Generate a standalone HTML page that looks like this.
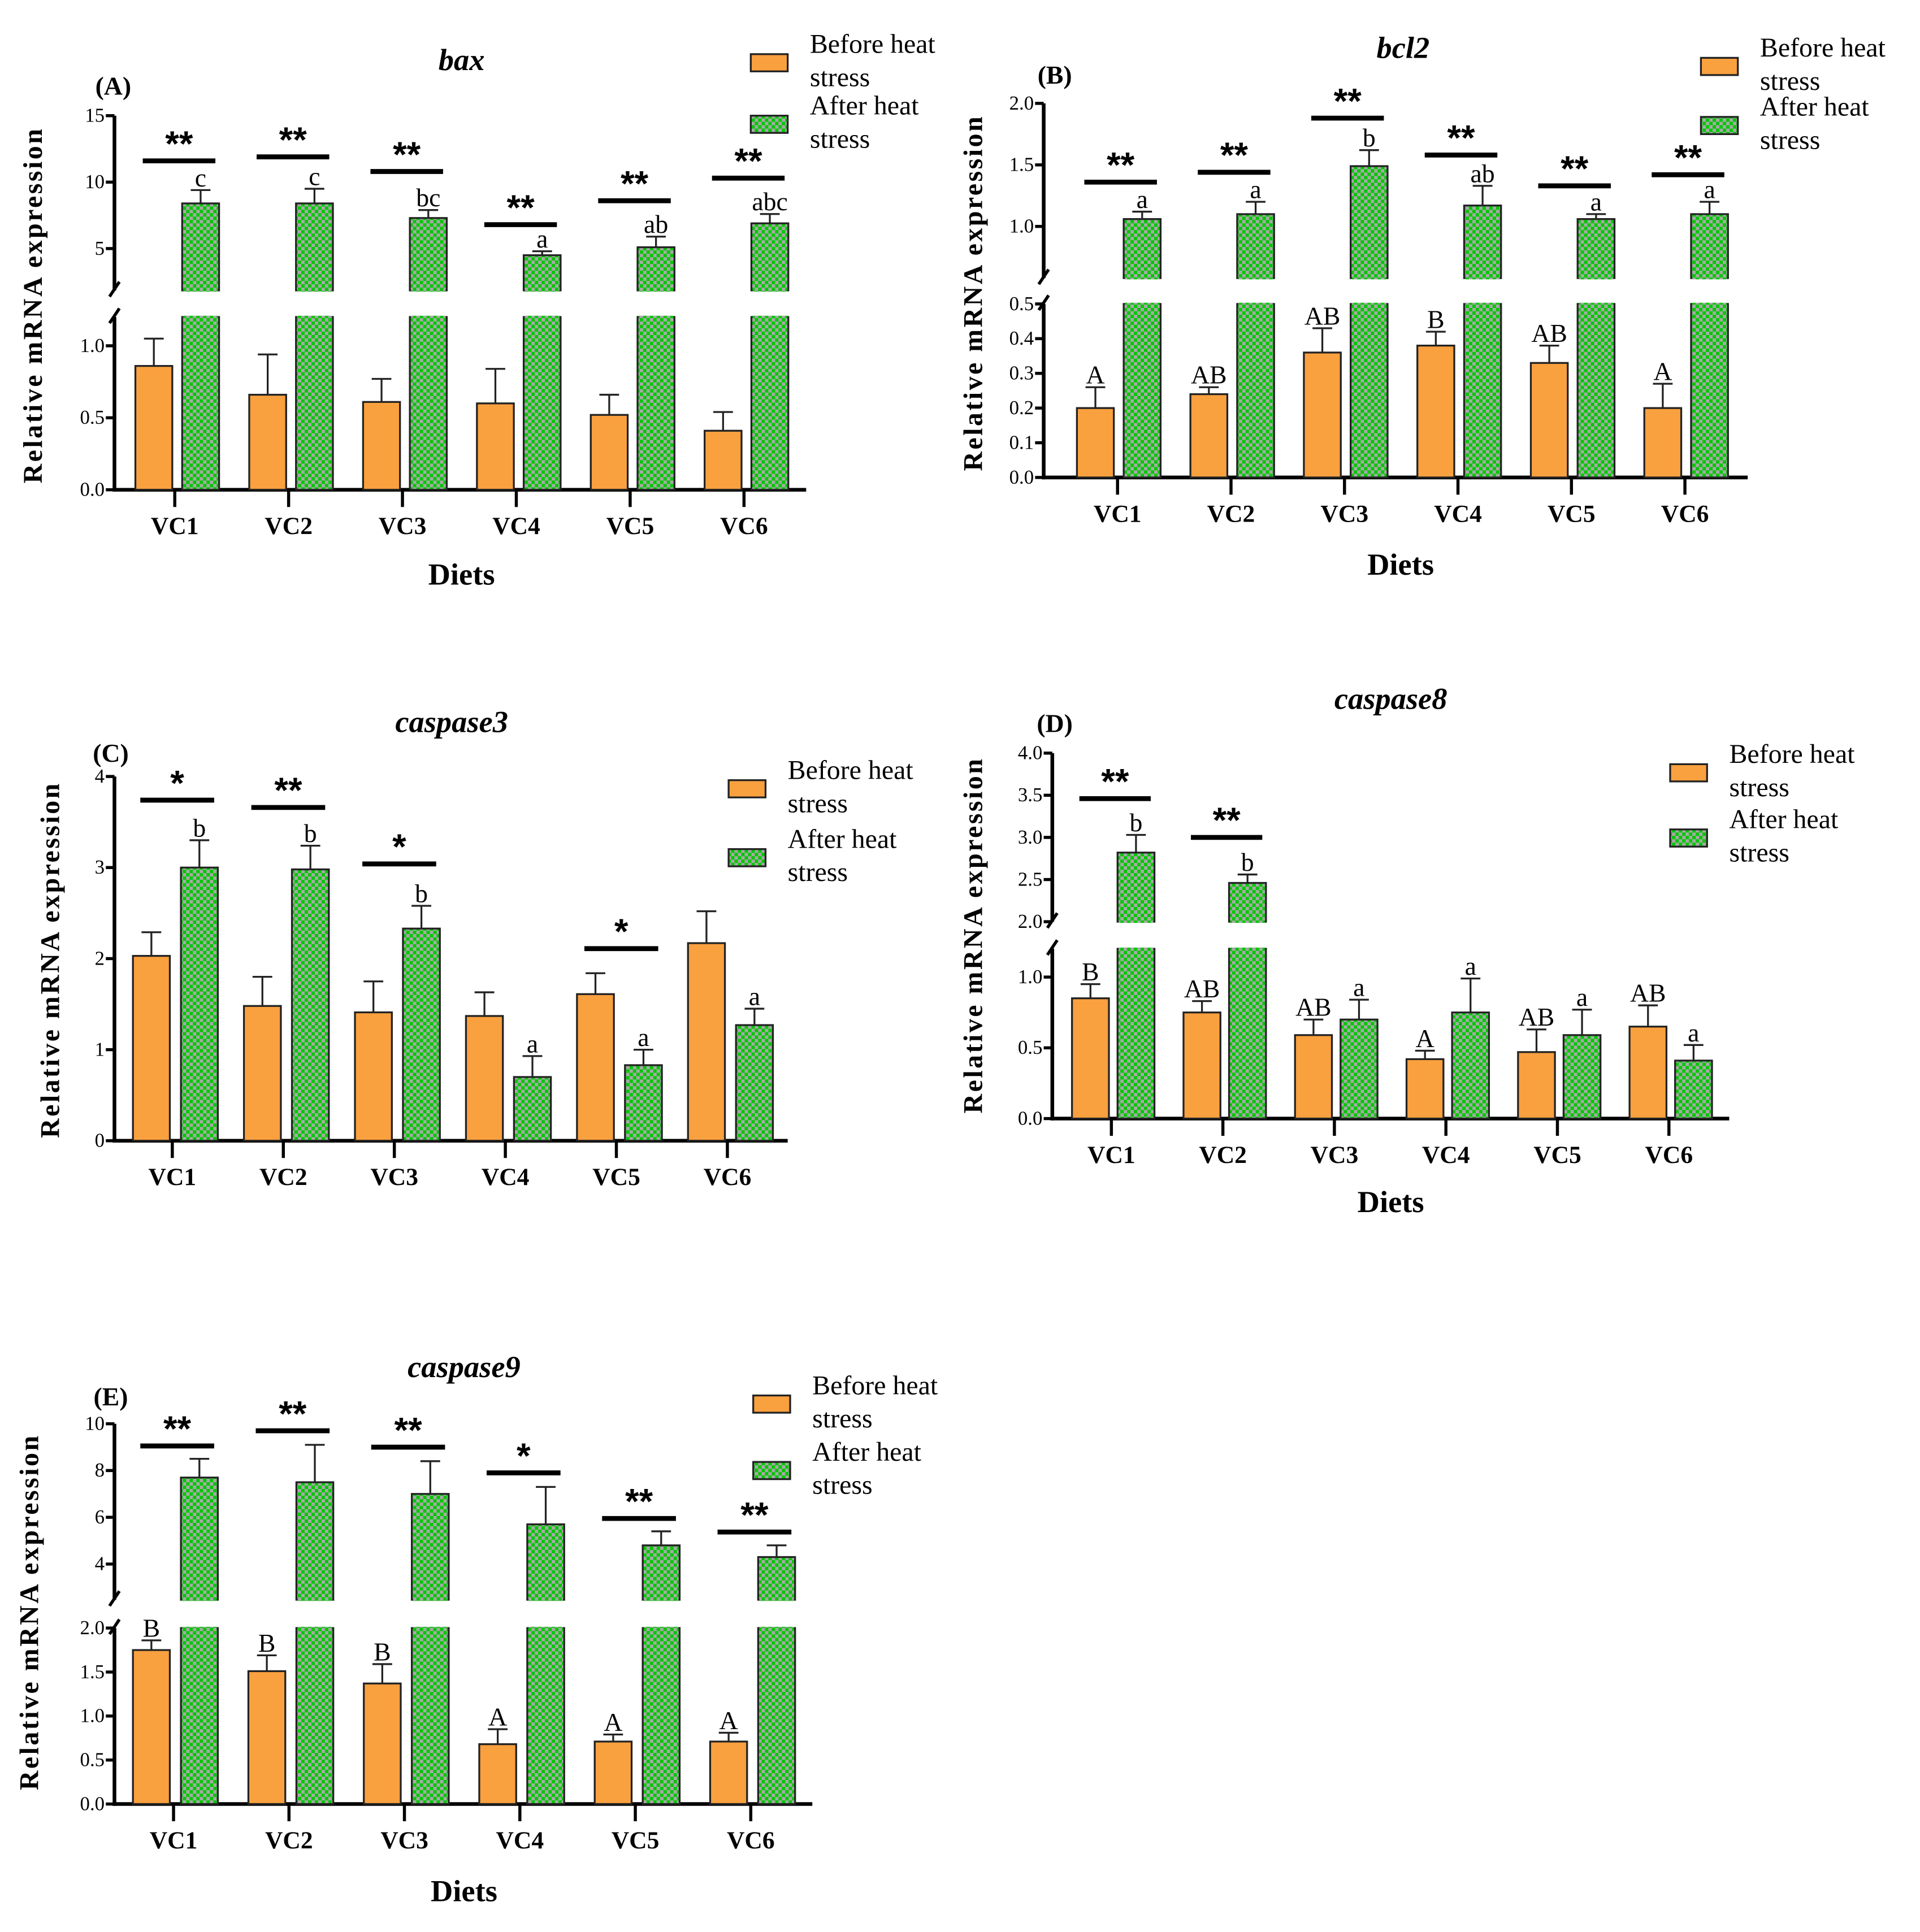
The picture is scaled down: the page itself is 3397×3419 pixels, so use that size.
<!DOCTYPE html>
<html><head><meta charset="utf-8">
<style>
html,body{margin:0;padding:0;background:#fff;}
svg{display:block;font-family:"Liberation Serif",serif;}
</style></head>
<body>
<svg id="fig" width="3397" height="3419" viewBox="0 0 1560 1570" preserveAspectRatio="none" xmlns="http://www.w3.org/2000/svg">
<defs>
<pattern id="chk" patternUnits="userSpaceOnUse" width="5.5" height="5.5">
<rect width="5.5" height="5.5" fill="#00c800"/>
<rect width="2.75" height="2.75" fill="#a8a8a8"/>
<rect x="2.75" y="2.75" width="2.75" height="2.75" fill="#a8a8a8"/>
</pattern>
</defs>
</svg>
<script>
// ---------- data ----------
const categories = ["VC1","VC2","VC3","VC4","VC5","VC6"];
// Panel A: bax
const baxBefore = [0.86,0.66,0.61,0.60,0.52,0.41];
const baxBeforeErr = [1.05,0.94,0.77,0.84,0.66,0.54];
const baxAfter = [8.4,8.4,7.3,4.5,5.1,6.9];
const baxAfterErr = [9.4,9.5,7.9,4.8,5.9,7.6];
const baxAfterLetters = ["c","c","bc","a","ab","abc"];
const baxBeforeLetters = ["","","","","",""];
const baxSig = [11.6,11.9,10.8,6.8,8.6,10.3];
const baxStars = ["**","**","**","**","**","**"];
// Panel B: bcl2
const bcl2Before = [0.20,0.24,0.36,0.38,0.33,0.20];
const bcl2BeforeErr = [0.26,0.26,0.43,0.42,0.38,0.27];
const bcl2BeforeLetters = ["A","AB","AB","B","AB","A"];
const bcl2After = [1.06,1.10,1.49,1.17,1.06,1.10];
const bcl2AfterErr = [1.12,1.20,1.62,1.33,1.10,1.20];
const bcl2AfterLetters = ["a","a","b","ab","a","a"];
const bcl2Sig = [1.36,1.44,1.88,1.58,1.33,1.42];
const bcl2Stars = ["**","**","**","**","**","**"];
// Panel C: caspase3
const c3Before = [2.03,1.48,1.41,1.37,1.61,2.17];
const c3BeforeErr = [2.29,1.80,1.75,1.63,1.84,2.52];
const c3BeforeLetters = ["","","","","",""];
const c3After = [3.0,2.98,2.33,0.70,0.83,1.27];
const c3AfterErr = [3.3,3.24,2.58,0.93,1.00,1.45];
const c3AfterLetters = ["b","b","b","a","a","a"];
const c3Sig = [3.74,3.66,3.04,null,2.11,null];
const c3Stars = ["*","**","*","","*",""];
// Panel D: caspase8
const c8Before = [0.85,0.75,0.59,0.42,0.47,0.65];
const c8BeforeErr = [0.95,0.83,0.70,0.48,0.63,0.80];
const c8BeforeLetters = ["B","AB","AB","A","AB","AB"];
const c8After = [2.82,2.46,0.70,0.75,0.59,0.41];
const c8AfterErr = [3.03,2.56,0.84,0.99,0.77,0.52];
const c8AfterLetters = ["b","b","a","a","a","a"];
const c8Sig = [3.46,3.0,null,null,null,null];
const c8Stars = ["**","**","","","",""];
// Panel E: caspase9
const c9Before = [1.75,1.51,1.37,0.68,0.71,0.71];
const c9BeforeErr = [1.86,1.69,1.59,0.85,0.79,0.81];
const c9BeforeLetters = ["B","B","B","A","A","A"];
const c9After = [7.7,7.5,7.0,5.7,4.8,4.3];
const c9AfterErr = [8.5,9.1,8.4,7.3,5.4,4.8];
const c9AfterLetters = ["","","","","",""];
const c9Sig = [9.05,9.7,9.0,7.9,5.95,5.37];
const c9Stars = ["**","**","**","*","**","**"];
// tick labels
const baxLowTicks = [0,0.5,1.0], baxUpTicks = [5,10,15];
const bcl2LowTicks = [0,0.1,0.2,0.3,0.4,0.5], bcl2UpTicks = [1.0,1.5,2.0];
const c3Ticks = [0,1,2,3,4];
const c8LowTicks = [0,0.5,1.0], c8UpTicks = [2.0,2.5,3.0,3.5,4.0];
const c9LowTicks = [0,0.5,1.0,1.5,2.0], c9UpTicks = [4,6,8,10];

// ---------- drawing ----------
const svg = document.getElementById('fig');
const NS = 'http://www.w3.org/2000/svg';
function mk(tag, attrs, parent, text){
  const e = document.createElementNS(NS, tag);
  for (const k in attrs) e.setAttribute(k, attrs[k]);
  if (text !== undefined) e.textContent = text;
  (parent||svg).appendChild(e);
  return e;
}

function panel(cfg){
  const g = mk('g', {});
  
  
  const L = cfg.low, U = cfg.up;
  function yLow(v){ return L.y0 - (v - L.v0) * (L.y0 - L.y1) / (L.v1 - L.v0); }
  function yUp(v){ return U.y0 - (v - U.v0) * (U.y0 - U.y1) / (U.v1 - U.v0); }
  function Y(v){ return (U && v > L.top) ? yUp(v) : yLow(v); }
  function X(i){ return cfg.x0 + i * cfg.dx; }
  const bw = 30;
  const ax = mk('g', {}, g);
  
  
  const lowTopY = U ? yLow(L.top) : yLow(L.ticks[L.ticks.length-1]);
  mk('line', {x1:cfg.ax, y1:cfg.base+1.5, x2:cfg.ax, y2:lowTopY, stroke:'#000','stroke-width':3}, ax);
  if (U){
    const upTopY = yUp(U.ticks[U.ticks.length-1]);
    mk('line', {x1:cfg.ax, y1:U.bottomY, x2:cfg.ax, y2:upTopY, stroke:'#000','stroke-width':3}, ax);
    mk('line', {x1:cfg.ax-4, y1:U.bottomY+5, x2:cfg.ax+4, y2:U.bottomY-7, stroke:'#000','stroke-width':2.5}, ax);
    mk('line', {x1:cfg.ax-4, y1:lowTopY+5, x2:cfg.ax+4, y2:lowTopY-7, stroke:'#000','stroke-width':2.5}, ax);
    U.ticks.forEach(t=>{
      const y = yUp(t);
      mk('line',{x1:cfg.ax-7,y1:y,x2:cfg.ax,y2:y,stroke:'#000','stroke-width':2.5},ax);
      const tl = mk('text',{x:cfg.ax-8,y:y+5,'text-anchor':'end','font-size':16},ax, U.fmt(t));
      
      
    });
  }
  L.ticks.forEach(t=>{
    const y = yLow(t);
    mk('line',{x1:cfg.ax-7,y1:y,x2:cfg.ax,y2:y,stroke:'#000','stroke-width':2.5},ax);
    const tl = mk('text',{x:cfg.ax-8,y:y+5,'text-anchor':'end','font-size':16},ax, L.fmt(t));
    
    
  });
  const xa = mk('line',{x1:cfg.ax-1.5,y1:cfg.base,x2:cfg.xend,y2:cfg.base,stroke:'#000','stroke-width':3}, g);
  
  
  categories.forEach((c,i)=>{
    const cx = X(i);
    mk('line',{x1:cx,y1:cfg.base,x2:cx,y2:cfg.base+14,stroke:'#000','stroke-width':2.5},g);
    const xl = mk('text',{x:cx,y:cfg.base+36,'text-anchor':'middle','font-size':20,'font-weight':'bold'},g,c);
    
    
    const bx = cx + cfg.ob - bw/2;
    const bv = cfg.before[i];
    const by = Y(bv);
    const ob = mk('rect',{x:bx,y:by,width:bw,height:cfg.base-by,fill:'#f9a03f',stroke:'#222','stroke-width':1.5},g);
    
    
    const be = Y(cfg.beforeErr[i]);
    mk('line',{x1:bx+bw/2,y1:by,x2:bx+bw/2,y2:be,stroke:'#222','stroke-width':1.5},g);
    mk('line',{x1:bx+bw/2-8,y1:be,x2:bx+bw/2+8,y2:be,stroke:'#222','stroke-width':1.5},g);
    if (cfg.beforeLetters[i]) mk('text',{x:bx+bw/2,y:be-3,'text-anchor':'middle','font-size':21},g,cfg.beforeLetters[i]);
    const gx = cx + cfg.gb - bw/2;
    const av = cfg.after[i];
    const ay = Y(av);
    if (U && av > L.top){
      const r1 = mk('rect',{x:gx,y:lowTopY,width:bw,height:cfg.base-lowTopY,fill:'url(#chk)',stroke:'#222','stroke-width':1.5},g);
      
      
      const r2 = mk('rect',{x:gx,y:ay,width:bw,height:U.bottomY-ay,fill:'url(#chk)',stroke:'#222','stroke-width':1.5},g);
      
      
      mk('line',{x1:gx+1,y1:lowTopY,x2:gx+bw-1,y2:lowTopY,stroke:'url(#chk)','stroke-width':2},g);
      mk('line',{x1:gx+1,y1:U.bottomY,x2:gx+bw-1,y2:U.bottomY,stroke:'url(#chk)','stroke-width':2},g);
    } else {
      const r = mk('rect',{x:gx,y:ay,width:bw,height:cfg.base-ay,fill:'url(#chk)',stroke:'#222','stroke-width':1.5},g);
      
      
    }
    const ae = Y(cfg.afterErr[i]);
    mk('line',{x1:gx+bw/2,y1:ay,x2:gx+bw/2,y2:ae,stroke:'#222','stroke-width':1.5},g);
    mk('line',{x1:gx+bw/2-8,y1:ae,x2:gx+bw/2+8,y2:ae,stroke:'#222','stroke-width':1.5},g);
    if (cfg.afterLetters[i]) mk('text',{x:gx+bw/2,y:ae-3,'text-anchor':'middle','font-size':21},g,cfg.afterLetters[i]);
    if (cfg.sig[i] !== null){
      const sy = Y(cfg.sig[i]);
      const sl = mk('line',{x1:bx+6,y1:sy,x2:gx+bw-3,y2:sy,stroke:'#000','stroke-width':4},g);
      
      
      mk('text',{x:(bx+6+gx+bw-3)/2,y:sy-4,'text-anchor':'middle','font-size':29,'font-weight':'bold','font-family':'Liberation Sans, sans-serif'},g,cfg.stars[i]);
    }
  });
  const t = mk('text',{x:cfg.title[0],y:cfg.title[1],'text-anchor':'middle','font-size':25,'font-weight':'bold','font-style':'italic'},g,cfg.titleText);
  
  
  const pl = mk('text',{x:cfg.plabel[0],y:cfg.plabel[1],'text-anchor':'middle','font-size':21,'font-weight':'bold'},g,'(' + cfg.id.toUpperCase() + ')');
  
  
  const yl = mk('text',{x:0,y:0,'text-anchor':'middle','font-size':22,'font-weight':'bold','letter-spacing':1.6,'transform':'translate(' + (cfg.ylab[0]+8) + ',' + cfg.ylab[1] + ') rotate(-90)'},g,'Relative mRNA expression');
  
  
  if (cfg.diets){
    const d = mk('text',{x:cfg.diets[0],y:cfg.diets[1]+8,'text-anchor':'middle','font-size':25,'font-weight':'bold'},g,'Diets');
    
    
  }
  const lg = mk('g',{},g);
  
  
  const [lx, ly1, ly2, tx] = cfg.legend;
  const e1 = mk('g',{},lg);
  
  
  mk('rect',{x:lx,y:ly1,width:30,height:14,fill:'#f9a03f',stroke:'#222','stroke-width':1.5},e1);
  mk('text',{x:tx,y:ly1-1,'font-size':22},e1,'Before heat');
  mk('text',{x:tx,y:ly1+26,'font-size':22},e1,'stress');
  const e2 = mk('g',{},lg);
  
  
  mk('rect',{x:lx,y:ly2,width:30,height:14,fill:'url(#chk)',stroke:'#222','stroke-width':1.5},e2);
  mk('text',{x:tx,y:ly2-1,'font-size':22},e2,'After heat');
  mk('text',{x:tx,y:ly2+26,'font-size':22},e2,'stress');
}
const f1 = v => v.toFixed(1), f0 = v => String(v);

panel({id:'a', titleText:'bax', title:[375,57], plabel:[92,77], ylab:[26,248], diets:[375,467],
  ax:93, base:398, xend:655, x0:142, dx:92.5, ob:-17, gb:21,
  low:{v0:0,y0:398,v1:1,y1:281,top:1.2,ticks:baxLowTicks,fmt:f1},
  up:{v0:5,y0:202,v1:15,y1:94,bottomY:236,ticks:baxUpTicks,fmt:f0},
  before:baxBefore, beforeErr:baxBeforeErr, beforeLetters:baxBeforeLetters,
  after:baxAfter, afterErr:baxAfterErr, afterLetters:baxAfterLetters, sig:baxSig, stars:baxStars,
  legend:[610,44,94,658]});
panel({id:'b', titleText:'bcl2', title:[1140,47], plabel:[857,68], ylab:[790,238], diets:[1138,459],
  ax:848, base:388, xend:1420, x0:908, dx:92.2, ob:-18, gb:20,
  low:{v0:0,y0:388,v1:0.5,y1:247,top:0.5,ticks:bcl2LowTicks,fmt:f1},
  up:{v0:1,y0:184,v1:2,y1:84,bottomY:226,ticks:bcl2UpTicks,fmt:f1},
  before:bcl2Before, beforeErr:bcl2BeforeErr, beforeLetters:bcl2BeforeLetters,
  after:bcl2After, afterErr:bcl2AfterErr, afterLetters:bcl2AfterLetters, sig:bcl2Sig, stars:bcl2Stars,
  legend:[1382,47,95,1430]});
panel({id:'c', titleText:'caspase3', title:[367,595], plabel:[90,619], ylab:[40,780], diets:null,
  ax:93, base:927, xend:640, x0:140, dx:90.2, ob:-17, gb:22,
  low:{v0:0,y0:927,v1:4,y1:631,top:4,ticks:c3Ticks,fmt:f0}, up:null,
  before:c3Before, beforeErr:c3BeforeErr, beforeLetters:c3BeforeLetters,
  after:c3After, afterErr:c3AfterErr, afterLetters:c3AfterLetters, sig:c3Sig, stars:c3Stars,
  legend:[592,634,690,640]});
panel({id:'d', titleText:'caspase8', title:[1130,576], plabel:[857,595], ylab:[790,760], diets:[1130,977],
  ax:855, base:909, xend:1405, x0:903, dx:90.6, ob:-17, gb:20,
  low:{v0:0,y0:909,v1:1,y1:794,top:1.2,ticks:c8LowTicks,fmt:f1},
  up:{v0:2,y0:749,v1:4,y1:612,bottomY:749,ticks:c8UpTicks,fmt:f1},
  before:c8Before, beforeErr:c8BeforeErr, beforeLetters:c8BeforeLetters,
  after:c8After, afterErr:c8AfterErr, afterLetters:c8AfterLetters, sig:c8Sig, stars:c8Stars,
  legend:[1357,621,674,1405]});
panel({id:'e', titleText:'caspase9', title:[377,1119], plabel:[90,1142], ylab:[23,1310], diets:[377,1537],
  ax:93, base:1466, xend:660, x0:141, dx:93.8, ob:-18, gb:21,
  low:{v0:0,y0:1466,v1:2,y1:1323,top:2,ticks:c9LowTicks,fmt:f1},
  up:{v0:4,y0:1271,v1:10,y1:1157,bottomY:1300,ticks:c9UpTicks,fmt:f0},
  before:c9Before, beforeErr:c9BeforeErr, beforeLetters:c9BeforeLetters,
  after:c9After, afterErr:c9AfterErr, afterLetters:c9AfterLetters, sig:c9Sig, stars:c9Stars,
  legend:[612,1134,1188,660]});
</script>
</body></html>
